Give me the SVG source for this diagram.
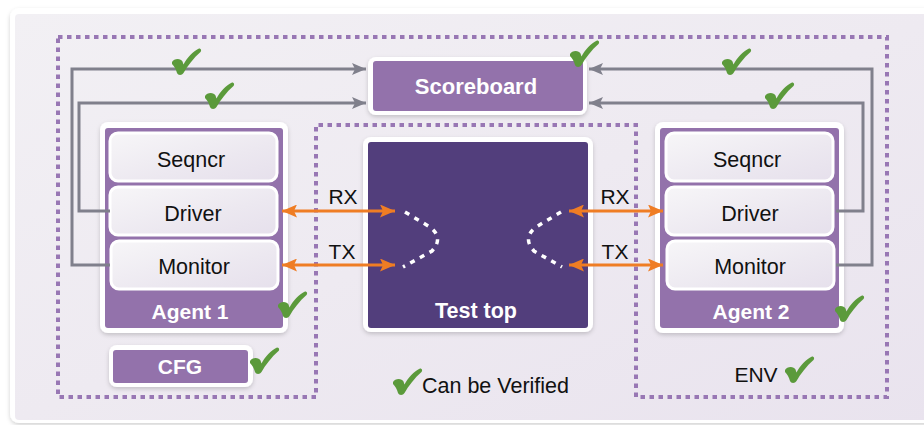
<svg xmlns="http://www.w3.org/2000/svg" width="924" height="425" viewBox="0 0 924 425">
<defs>
<linearGradient id="bg" x1="0" y1="0" x2="1" y2="1">
<stop offset="0" stop-color="#f2f0f4"/><stop offset="0.5" stop-color="#eeeaf1"/><stop offset="1" stop-color="#e9e3ee"/>
</linearGradient>
<linearGradient id="sub" x1="0" y1="0" x2="1" y2="1">
<stop offset="0" stop-color="#f7f6f8"/><stop offset="0.6" stop-color="#ece8f0"/><stop offset="1" stop-color="#e6e0ec"/>
</linearGradient>
<filter id="sh" x="-10%" y="-10%" width="120%" height="130%">
<feDropShadow dx="0" dy="2" stdDeviation="2" flood-color="#000" flood-opacity="0.18"/>
</filter>
<marker id="ga" viewBox="0 0 14 12" refX="14" refY="6" markerWidth="14" markerHeight="12" markerUnits="userSpaceOnUse" orient="auto">
<path d="M0,0 L14,6 L0,12 L3,6 Z" fill="#80808c"/>
</marker>
<marker id="oa" viewBox="0 0 15 13" refX="15" refY="6.5" markerWidth="15" markerHeight="13" markerUnits="userSpaceOnUse" orient="auto-start-reverse">
<path d="M0,0 L15,6.5 L0,13 L3,6.5 Z" fill="#ef7d24"/>
</marker>
<path id="chk" d="M0,13 C2,9 9,9 10.5,12.5 L11.5,15.5 C15,8.5 21,2.5 27,-0.5 C29.5,-0.5 29.5,2 28.5,3 C21.5,9 15.5,17 11.5,24 C10,26.5 6,26.5 5,24 C4,20 2,17 0,15 Z" fill="#5b9a3b"/>
</defs>
<style>
.dot{fill:none;stroke:#9877b4;stroke-width:4;stroke-dasharray:4.5 4.5}
.gl{fill:none;stroke:#80808c;stroke-width:3}
.ol{fill:none;stroke:#ef7d24;stroke-width:3}
.wd{fill:none;stroke:#ffffff;stroke-width:3.5;stroke-dasharray:5 6}
.frame{fill:#ffffff}
.pur{fill:#9372ab}
.sub{fill:url(#sub);stroke:#ffffff;stroke-width:3}
.t{font-family:"Liberation Sans",Arial,Helvetica,sans-serif;fill:#111111}
.b{font-family:"Liberation Sans",Arial,Helvetica,sans-serif;font-weight:bold;fill:#ffffff}
</style>
<rect x="0" y="0" width="924" height="425" fill="#ffffff"/>
<rect x="10" y="8" width="940" height="415" rx="9" fill="#ffffff" filter="url(#sh)"/>
<rect x="15" y="14" width="930" height="406" rx="4" fill="url(#bg)"/>

<g id="env-boundary">
<path class="dot" d="M58,37 H887 V397 H636 V125 H316 V397 H58 Z"/>
</g>

<g id="scoreboard">
<rect class="frame" x="368" y="57" width="219" height="58" rx="8" filter="url(#sh)"/>
<rect class="pur" x="373" y="61" width="210" height="50" rx="3"/>
<text class="b" x="476" y="94" font-size="22" text-anchor="middle">Scoreboard</text>
</g>

<g id="testtop">
<rect class="frame" x="363" y="137" width="230" height="195" rx="8" filter="url(#sh)"/>
<rect x="368" y="142" width="220" height="186" rx="3" fill="#523e7c"/>
<path class="wd" d="M405,212 L430,227 Q444,238 432,251 L403,267"/>
<path class="wd" d="M561,212 L536,227 Q522,238 534,251 L562,267"/>
<text class="b" x="476" y="318" font-size="21.5" text-anchor="middle">Test top</text>
</g>

<g id="agent1">
<rect class="frame" x="100" y="122" width="188" height="211" rx="8" filter="url(#sh)"/>
<rect class="pur" x="105" y="128" width="178" height="200" rx="3"/>
<text class="b" x="190" y="319" font-size="21" text-anchor="middle">Agent 1</text>
</g>
<g id="seqncr1">
<rect class="sub" x="110" y="133" width="167" height="48" rx="8"/>
<text class="t" x="191" y="167" font-size="21.5" text-anchor="middle">Seqncr</text>
</g>
<g id="driver1">
<rect class="sub" x="110" y="187" width="167" height="48" rx="8"/>
<text class="t" x="193" y="221" font-size="21.5" text-anchor="middle">Driver</text>
</g>
<g id="monitor1">
<rect class="sub" x="111" y="241" width="167" height="48" rx="8"/>
<text class="t" x="194" y="274" font-size="21.5" text-anchor="middle">Monitor</text>
</g>

<g id="cfg">
<rect class="frame" x="109" y="345" width="144" height="42" rx="8" filter="url(#sh)"/>
<rect class="pur" x="113" y="350" width="135" height="33" rx="3"/>
<text class="b" x="180" y="374" font-size="21" text-anchor="middle">CFG</text>
</g>

<g id="agent2">
<rect class="frame" x="655" y="122" width="189" height="211" rx="8" filter="url(#sh)"/>
<rect class="pur" x="660" y="128" width="179" height="200" rx="3"/>
<text class="b" x="751" y="319" font-size="21" text-anchor="middle">Agent 2</text>
</g>
<g id="seqncr2">
<rect class="sub" x="666" y="133" width="167" height="48" rx="8"/>
<text class="t" x="747" y="167" font-size="21.5" text-anchor="middle">Seqncr</text>
</g>
<g id="driver2">
<rect class="sub" x="666" y="187" width="167" height="48" rx="8"/>
<text class="t" x="750" y="221" font-size="21.5" text-anchor="middle">Driver</text>
</g>
<g id="monitor2">
<rect class="sub" x="667" y="241" width="167" height="48" rx="8"/>
<text class="t" x="750" y="274" font-size="21.5" text-anchor="middle">Monitor</text>
</g>

<g id="connectors">
<path class="gl" d="M110,265 H72 V69 H366" marker-end="url(#ga)"/>
<path class="gl" d="M110,211 H79 V103 H366" marker-end="url(#ga)"/>
<path class="gl" d="M836,265 H872 V69 H589" marker-end="url(#ga)"/>
<path class="gl" d="M836,211 H863 V103 H589" marker-end="url(#ga)"/>
<path class="ol" d="M282,211 H395" marker-start="url(#oa)" marker-end="url(#oa)"/>
<path class="ol" d="M282,265 H395" marker-start="url(#oa)" marker-end="url(#oa)"/>
<path class="ol" d="M569,211 H663" marker-start="url(#oa)" marker-end="url(#oa)"/>
<path class="ol" d="M569,265 H663" marker-start="url(#oa)" marker-end="url(#oa)"/>
<text class="t" x="343" y="204" font-size="21" text-anchor="middle">RX</text>
<text class="t" x="342" y="259" font-size="21" text-anchor="middle">TX</text>
<text class="t" x="615" y="204" font-size="21" text-anchor="middle">RX</text>
<text class="t" x="615" y="259" font-size="21" text-anchor="middle">TX</text>
</g>

<g id="env-label">
<text class="t" x="756" y="382" font-size="21" text-anchor="middle">ENV</text>
</g>

<g id="checks">
<use href="#chk" x="172" y="49"/>
<use href="#chk" x="205" y="83"/>
<use href="#chk" x="570" y="41"/>
<use href="#chk" x="722" y="49"/>
<use href="#chk" x="765" y="83"/>
<use href="#chk" x="278" y="292"/>
<use href="#chk" x="250" y="348"/>
<use href="#chk" x="835" y="296"/>
<use href="#chk" x="785" y="357"/>
</g>

<g id="legend">
<use href="#chk" x="393" y="369"/>
<text class="t" x="422" y="393" font-size="21.5">Can be Verified</text>
</g>
</svg>
